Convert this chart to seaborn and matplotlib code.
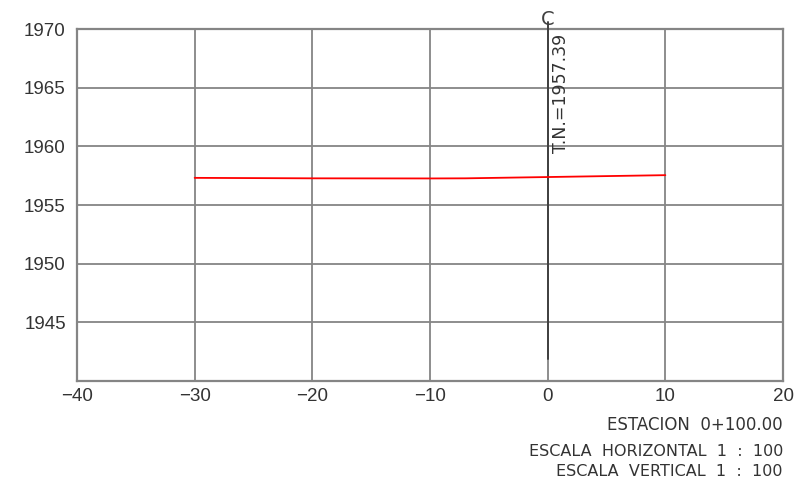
import matplotlib
matplotlib.use("Agg")
import matplotlib.pyplot as plt
import seaborn as sns
import pandas as pd

# Data
offsets = [-30, -20, -10, -7, 0, 10]
elevations = [1957.32, 1957.28, 1957.27, 1957.28, 1957.39, 1957.55]
x_ticks = [-40, -30, -20, -10, 0, 10, 20]
y_ticks = [1945, 1950, 1955, 1960, 1965, 1970]
label_tn = "T.N.=1957.39"
station = "ESTACION  0+100.00"
scale_h = "ESCALA  HORIZONTAL  1  :  100"
scale_v = "ESCALA  VERTICAL  1  :  100"

sns.set_style("white")
plt.rcParams['font.family'] = ['Liberation Sans', 'DejaVu Sans']

df = pd.DataFrame({"offset": offsets, "elev": elevations})

fig = plt.figure(figsize=(8.06, 4.84), dpi=100)
ax = fig.add_axes([0.0955, 0.2128, 0.876, 0.727])

grid_c = "#858585"
for xv in x_ticks[1:-1]:
    ax.axvline(xv, color=grid_c, lw=1.3, zorder=1)
for yv in y_ticks[:-1]:
    ax.axhline(yv, color=grid_c, lw=1.3, zorder=1)

# centerline
ax.plot([0, 0], [1941.9, 1970.6], color="#404040", lw=1.4, zorder=3, clip_on=False)
ax.text(0, 1970.0, "C", ha="center", va="bottom", fontsize=14, color="#404040",
        family="DejaVu Sans")
ax.text(0.35, 1969.6, label_tn, rotation=90, ha="left", va="top", fontsize=12.5,
        color="#333333", family="DejaVu Sans")

sns.lineplot(data=df, x="offset", y="elev", color="#ff0000", lw=1.3, ax=ax, zorder=4)

ax.set_xlim(-40, 20)
ax.set_ylim(1940, 1970)
ax.set_xticks(x_ticks)
ax.set_xticklabels(["\u221240", "\u221230", "\u221220", "\u221210", "0", "10", "20"])
ax.set_yticks(y_ticks)
ax.set_xlabel("")
ax.set_ylabel("")
ax.tick_params(axis="both", length=0, labelsize=13.5, colors="#333333", pad=8)
ax.tick_params(axis="x", pad=5)
for s in ax.spines.values():
    s.set_color(grid_c)
    s.set_linewidth(1.6)
    s.set_visible(True)
ax.grid(False)

fig.text(783/806, 1-425/484, station, ha="right", va="center", fontsize=12,
         color="#333333", family="DejaVu Sans")
fig.text(783/806, 1-451/484, scale_h, ha="right", va="center", fontsize=11.5,
         color="#333333", family="DejaVu Sans")
fig.text(783/806, 1-471/484, scale_v, ha="right", va="center", fontsize=11.5,
         color="#333333", family="DejaVu Sans")

fig.savefig("out.png", dpi=100)
